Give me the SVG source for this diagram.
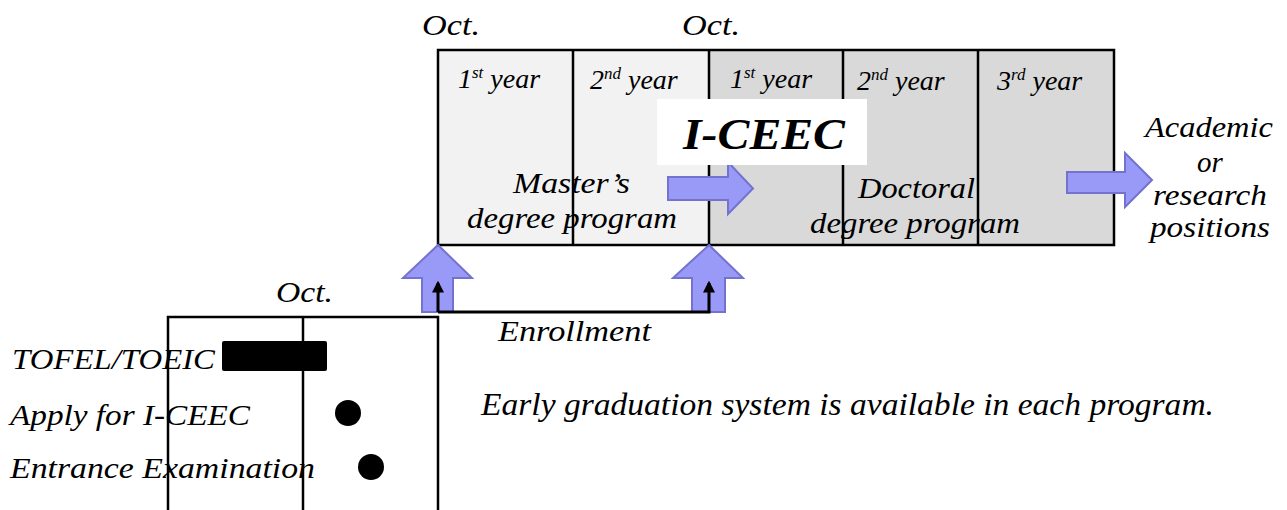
<svg xmlns="http://www.w3.org/2000/svg" width="1287" height="510" viewBox="0 0 1287 510">
<defs>
<marker id="ah" viewBox="0 0 10 10" refX="8" refY="5" markerWidth="4" markerHeight="4" orient="auto">
<path d="M0,0 L10,5 L0,10 z" fill="#000"/>
</marker>
</defs>
<rect width="1287" height="510" fill="#fff"/>

<g id="timeline-top">
<rect x="438" y="50" width="271" height="195" fill="#f2f2f2"/>
<rect x="709" y="50" width="405" height="195" fill="#d9d9d9"/>
<rect x="438" y="50" width="676" height="195" fill="none" stroke="#000" stroke-width="2.5"/>
<path d="M573,50 V245 M709,50 V245 M843,50 V245 M978,50 V245" stroke="#000" stroke-width="2.5" fill="none"/>
</g>

<g id="labels-oct">
<text font-family="Liberation Serif" font-style="italic" font-size="30" x="422" y="35" textLength="58" lengthAdjust="spacingAndGlyphs">Oct.</text>
<text font-family="Liberation Serif" font-style="italic" font-size="30" x="682" y="35" textLength="58" lengthAdjust="spacingAndGlyphs">Oct.</text>
<text font-family="Liberation Serif" font-style="italic" font-size="30" x="276" y="302" textLength="57" lengthAdjust="spacingAndGlyphs">Oct.</text>
</g>

<g id="year-labels">
<text font-family="Liberation Serif" font-style="italic" font-size="28" x="458" y="88">1<tspan font-size="17" dy="-10">st</tspan><tspan dy="10"> year</tspan></text>
<text font-family="Liberation Serif" font-style="italic" font-size="28" x="590" y="89">2<tspan font-size="17" dy="-10">nd</tspan><tspan dy="10"> year</tspan></text>
<text font-family="Liberation Serif" font-style="italic" font-size="28" x="730" y="88">1<tspan font-size="17" dy="-10">st</tspan><tspan dy="10"> year</tspan></text>
<text font-family="Liberation Serif" font-style="italic" font-size="28" x="857" y="90">2<tspan font-size="17" dy="-10">nd</tspan><tspan dy="10"> year</tspan></text>
<text font-family="Liberation Serif" font-style="italic" font-size="28" x="997" y="90">3<tspan font-size="17" dy="-10">rd</tspan><tspan dy="10"> year</tspan></text>
</g>

<g id="master-program">
<text font-family="Liberation Serif" font-style="italic" font-size="29" x="513" y="193" textLength="117" lengthAdjust="spacingAndGlyphs">Master&#8217;s</text>
<text font-family="Liberation Serif" font-style="italic" font-size="29" x="467" y="228" textLength="210" lengthAdjust="spacingAndGlyphs">degree program</text>
</g>

<g id="doctoral-program">
<text font-family="Liberation Serif" font-style="italic" font-size="29" x="858" y="198" textLength="117" lengthAdjust="spacingAndGlyphs">Doctoral</text>
<text font-family="Liberation Serif" font-style="italic" font-size="29" x="810" y="233" textLength="210" lengthAdjust="spacingAndGlyphs">degree program</text>
</g>

<g id="arrow-master-doctoral">
<path d="M668,177 H728 V162 L753,188.5 L728,214 V200 H668 Z" fill="#9999f8" stroke="#7373cf" stroke-width="2"/>
</g>

<g id="iceec">
<rect x="657" y="99" width="210" height="66" fill="#fff"/>
<text font-family="Liberation Serif" font-style="italic" font-size="44" font-weight="bold" x="683" y="149" textLength="162" lengthAdjust="spacingAndGlyphs">I-CEEC</text>
</g>

<g id="arrow-career">
<path d="M1067,172 H1125 V153 L1152,180 L1125,207 V193 H1067 Z" fill="#9999f8" stroke="#7373cf" stroke-width="2"/>
</g>

<g id="career">
<text font-family="Liberation Serif" font-style="italic" font-size="29" x="1145" y="137" textLength="128" lengthAdjust="spacingAndGlyphs">Academic</text>
<text font-family="Liberation Serif" font-style="italic" font-size="29" x="1197" y="172">or</text>
<text font-family="Liberation Serif" font-style="italic" font-size="29" x="1153" y="205" textLength="114" lengthAdjust="spacingAndGlyphs">research</text>
<text font-family="Liberation Serif" font-style="italic" font-size="29" x="1150" y="237" textLength="120" lengthAdjust="spacingAndGlyphs">positions</text>
</g>

<g id="enroll-arrow-master">
<path d="M438,245 L472,278 H453 V312 H422 V278 H403 Z" fill="#9999f8" stroke="#7373cf" stroke-width="2"/>
</g>
<g id="enroll-arrow-doctoral">
<path d="M709,245 L743,278 H725 V312 H692 V278 H673 Z" fill="#9999f8" stroke="#7373cf" stroke-width="2"/>
</g>

<g id="connectors">
<path d="M438,312 V283" fill="none" stroke="#000" stroke-width="3" marker-end="url(#ah)"/>
<path d="M438,312 H709 V283" fill="none" stroke="#000" stroke-width="3" marker-end="url(#ah)"/>
</g>

<g id="enrollment-label">
<text font-family="Liberation Serif" font-style="italic" font-size="29" x="498" y="341" textLength="153" lengthAdjust="spacingAndGlyphs">Enrollment</text>
</g>

<g id="timeline-bottom">
<rect x="168" y="317" width="270" height="200" fill="none" stroke="#000" stroke-width="2.5"/>
<path d="M303,317 V510" stroke="#000" stroke-width="2.5"/>
<rect x="222" y="341" width="105" height="30" rx="2" fill="#000"/>
<circle cx="348" cy="413" r="13" fill="#000"/>
<circle cx="371" cy="467" r="13" fill="#000"/>
</g>

<g id="steps">
<text font-family="Liberation Serif" font-style="italic" font-size="29" x="12" y="369" textLength="203" lengthAdjust="spacingAndGlyphs">TOFEL/TOEIC</text>
<text font-family="Liberation Serif" font-style="italic" font-size="29" x="10" y="425" textLength="240" lengthAdjust="spacingAndGlyphs">Apply for I-CEEC</text>
<text font-family="Liberation Serif" font-style="italic" font-size="29" x="10" y="478" textLength="305" lengthAdjust="spacingAndGlyphs">Entrance Examination</text>
</g>

<g id="note">
<text font-family="Liberation Serif" font-style="italic" font-size="31" x="481" y="415" textLength="733" lengthAdjust="spacingAndGlyphs">Early graduation system is available in each program.</text>
</g>
</svg>
